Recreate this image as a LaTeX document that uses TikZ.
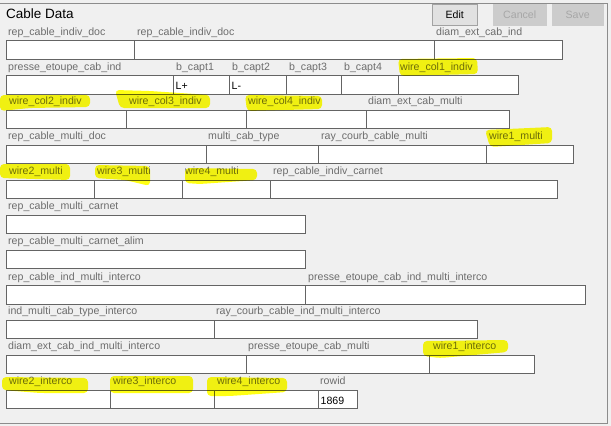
\documentclass[tikz,border=0pt]{standalone}
\usepackage{fontspec}
\setmainfont{Liberation Sans}
\usepackage{tikz}
\definecolor{bgC}{HTML}{F0F0F0}
\definecolor{boxC}{HTML}{646464}
\definecolor{lblC}{HTML}{6D6D6D}
\definecolor{frameC}{HTML}{8C8C8C}
\definecolor{hlC}{HTML}{FFFF14}
\definecolor{btnC}{HTML}{E1E1E1}
\definecolor{btnoffC}{HTML}{CCCCCC}
\newcommand\lblfont{\fontsize{10.6}{12}\selectfont}

\begin{document}
\begin{tikzpicture}[x=1pt,y=-1pt,
    fld/.style={draw=boxC, fill=white, line width=1.2pt, anchor=north west, inner sep=0pt, minimum height=18.5pt},
    lbl/.style={anchor=base west, inner sep=0pt, text=lblC, font=\lblfont},
    val/.style={anchor=base west, inner sep=0pt, font=\lblfont},
    btn/.style={draw=#1, anchor=north west, inner sep=0pt, minimum height=21pt, font=\lblfont},
    hl/.style={fill=hlC, rounded corners=4pt}]
    \fill[bgC] (0,0) rectangle (611,426);
    \useasboundingbox (0,0) rectangle (611,426);
    \draw[frameC, line width=1pt] (-2,3) -- (607,3) -- (607,423) -- (-2,423);
    \node[anchor=base west, inner sep=0pt, font=\fontsize{13.5}{15}\selectfont] (title) at (6,18) {Cable Data};
    \node[btn=boxC!60, fill=btnC, minimum width=45pt] (edit) at (432,4) {Edit};
    \node[btn=btnoffC, fill=btnoffC, text=lblC!60, minimum width=53pt] (cancel) at (493,4) {Cancel};
    \node[btn=btnoffC, fill=btnoffC, text=lblC!60, minimum width=51pt] (save) at (552,4) {Save};

    \node[fld, minimum width=128pt] (rcid) at (6,40) {};
    \node[fld, minimum width=300pt] (rcidb) at (134,40) {};
    \node[fld, minimum width=128pt] (deci) at (434,40) {};
    \node[fld, minimum width=167pt] (peci) at (6,75) {};
    \node[fld, minimum width=56pt] (bc1) at (173,75) {};
    \node[fld, minimum width=57pt] (bc2) at (229,75) {};
    \node[fld, minimum width=55pt] (bc3) at (286,75) {};
    \node[fld, minimum width=57pt] (bc4) at (341,75) {};
    \node[fld, minimum width=120pt] (wc1) at (398,75) {};
    \node[fld, minimum width=120pt] (wc2) at (6,109.5) {};
    \node[fld, minimum width=120pt] (wc3) at (126,109.5) {};
    \node[fld, minimum width=120pt] (wc4) at (246,109.5) {};
    \node[fld, minimum width=143pt] (decm) at (366,109.5) {};
    \node[fld, minimum width=200pt] (rcmd) at (6,144.5) {};
    \node[fld, minimum width=112pt] (mct) at (206,144.5) {};
    \node[fld, minimum width=168pt] (rccm) at (318,144.5) {};
    \node[fld, minimum width=87pt] (w1m) at (486,144.5) {};
    \node[fld, minimum width=88pt] (w2m) at (6,179.5) {};
    \node[fld, minimum width=88pt] (w3m) at (94,179.5) {};
    \node[fld, minimum width=88pt] (w4m) at (182,179.5) {};
    \node[fld, minimum width=287pt] (rcic) at (270,179.5) {};
    \node[fld, minimum width=299pt] (rcmc) at (6,214.5) {};
    \node[fld, minimum width=299pt] (rcmca) at (6,249.5) {};
    \node[fld, minimum width=299pt] (rcimi) at (6,285) {};
    \node[fld, minimum width=280pt] (pecimi) at (305,285) {};
    \node[fld, minimum width=208pt] (imcti) at (6,319.5) {};
    \node[fld, minimum width=263pt] (rccimi) at (214,319.5) {};
    \node[fld, minimum width=240pt] (decimi) at (6,354.5) {};
    \node[fld, minimum width=183pt] (pecm) at (246,354.5) {};
    \node[fld, minimum width=105pt] (w1i) at (429,354.5) {};
    \node[fld, minimum width=104pt] (w2i) at (6,389.5) {};
    \node[fld, minimum width=104pt] (w3i) at (110,389.5) {};
    \node[fld, minimum width=104pt] (w4i) at (214,389.5) {};
    \node[fld, minimum width=39pt] (rid) at (318,389.5) {};

    \node[val] (vbc1) at (175.5,89) {L+};
    \node[val] (vbc2) at (231.5,89) {L-};
    \node[val] (vrid) at (320.5,404) {1869};

    \node[lbl] (lrcid) at (8,35) {rep\_cable\_indiv\_doc};
    \node[lbl] (lrcidb) at (137,35) {rep\_cable\_indiv\_doc};
    \node[lbl] (ldeci) at (436,35) {diam\_ext\_cab\_ind};
    \node[lbl] (lpeci) at (8,70) {presse\_etoupe\_cab\_ind};
    \node[lbl] (lbc1) at (176,70) {b\_capt1};
    \node[lbl] (lbc2) at (232,70) {b\_capt2};
    \node[lbl] (lbc3) at (289,70) {b\_capt3};
    \node[lbl] (lbc4) at (344,70) {b\_capt4};
    \node[lbl] (lwc1) at (400,70) {wire\_col1\_indiv};
    \node[lbl] (lwc2) at (9,104.5) {wire\_col2\_indiv};
    \node[lbl] (lwc3) at (129,104.5) {wire\_col3\_indiv};
    \node[lbl] (lwc4) at (248,104.5) {wire\_col4\_indiv};
    \node[lbl] (ldecm) at (368,104.5) {diam\_ext\_cab\_multi};
    \node[lbl] (lrcmd) at (8,139.5) {rep\_cable\_multi\_doc};
    \node[lbl] (lmct) at (208,139.5) {multi\_cab\_type};
    \node[lbl] (lrccm) at (321,139.5) {ray\_courb\_cable\_multi};
    \node[lbl] (lw1m) at (489,139.5) {wire1\_multi};
    \node[lbl] (lw2m) at (9,174.5) {wire2\_multi};
    \node[lbl] (lw3m) at (97,174.5) {wire3\_multi};
    \node[lbl] (lw4m) at (185,174.5) {wire4\_multi};
    \node[lbl] (lrcic) at (273,174.5) {rep\_cable\_indiv\_carnet};
    \node[lbl] (lrcmc) at (8,209.5) {rep\_cable\_multi\_carnet};
    \node[lbl] (lrcmca) at (8,244.5) {rep\_cable\_multi\_carnet\_alim};
    \node[lbl] (lrcimi) at (8,280) {rep\_cable\_ind\_multi\_interco};
    \node[lbl] (lpecimi) at (308,280) {presse\_etoupe\_cab\_ind\_multi\_interco};
    \node[lbl] (limcti) at (8,314.5) {ind\_multi\_cab\_type\_interco};
    \node[lbl] (lrccimi) at (216,314.5) {ray\_courb\_cable\_ind\_multi\_interco};
    \node[lbl] (ldecimi) at (8,349.5) {diam\_ext\_cab\_ind\_multi\_interco};
    \node[lbl] (lpecm) at (248,349.5) {presse\_etoupe\_cab\_multi};
    \node[lbl] (lw1i) at (433,349.5) {wire1\_interco};
    \node[lbl] (lw2i) at (9,384.5) {wire2\_interco};
    \node[lbl] (lw3i) at (113,384.5) {wire3\_interco};
    \node[lbl] (lw4i) at (217,384.5) {wire4\_interco};
    \node[lbl] (lrid) at (320,384.5) {rowid};

    \begin{scope}[blend mode=multiply]
    \fill[hl] (398,59) -- (477,58) -- (478,74) -- (400,76) -- cycle;
    \fill[hl] (0,95) -- (90,95) -- (90,107) -- (30,108) -- (0,111) -- cycle;
    \fill[hl] (115,90) -- (150,91) -- (210,95) -- (210,108) -- (120,108) -- cycle;
    \fill[hl] (245,95) -- (322,96) -- (322,109) -- (247,111) -- cycle;
    \fill[hl] (485,130) -- (552,127) -- (552,143) -- (490,147) -- cycle;
    \fill[hl] (0,164) -- (70,164) -- (70,180) -- (0,178) -- cycle;
    \fill[hl] (95,165) -- (150,166) -- (150,186) -- (125,180) -- (95,178) -- cycle;
    \fill[hl] (185,168) -- (257,169) -- (257,180) -- (200,184) -- (185,183) -- cycle;
    \fill[hl] (423,341) -- (508,340) -- (508,352) -- (440,358) -- (423,356) -- cycle;
    \fill[hl] (2,377) -- (88,378) -- (88,393) -- (40,393) -- (2,390) -- cycle;
    \fill[hl] (110,376) -- (193,376) -- (193,393) -- (110,393) -- cycle;
    \fill[hl] (207,377) -- (287,378) -- (287,392) -- (230,396) -- (207,396) -- cycle;
    \end{scope}
\end{tikzpicture}
\end{document}
